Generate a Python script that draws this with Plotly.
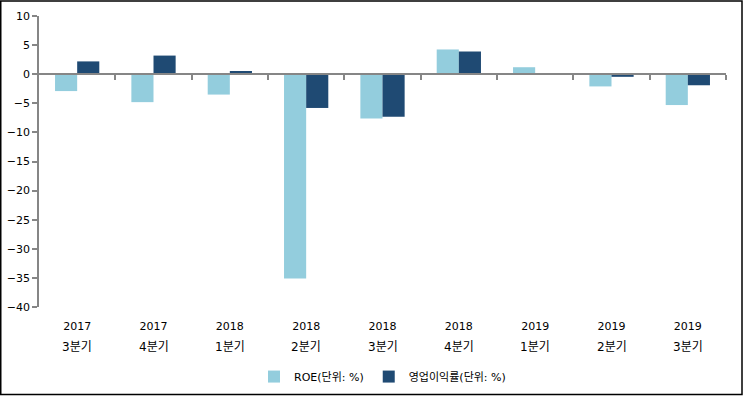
import plotly.graph_objects as go

years = ["2017", "2017", "2018", "2018", "2018", "2018", "2019", "2019", "2019"]
quarters = ["3분기", "4분기", "1분기", "2분기", "3분기", "4분기", "1분기", "2분기", "3분기"]
roe = [-2.9, -4.8, -3.5, -35.1, -7.6, 4.25, 1.2, -2.1, -5.3]
op_margin = [2.2, 3.2, 0.55, -5.8, -7.3, 3.9, 0, -0.45, -1.9]
y_ticks = [10, 5, 0, -5, -10, -15, -20, -25, -30, -35, -40]

idx = list(range(len(years)))
boundaries = [i + 0.5 for i in idx]

W, H = 743, 403
ml, mr, mt, mb = 39, 17, 16, 90
pw, ph = W - ml - mr, H - mt - mb

FONT = "DejaVu Sans, Noto Sans CJK KR, sans-serif"
AXIS_GRAY = "#868686"

fig = go.Figure()
fig.add_trace(go.Bar(x=idx, y=roe, name="ROE(단위: %)", marker_color="#93CDDD",
                     marker_line_width=0))
fig.add_trace(go.Bar(x=idx, y=op_margin, name="영업이익률(단위: %)", marker_color="#1F4A73",
                     marker_line_width=0))
fig.add_trace(go.Scatter(x=[idx[0]], y=[0], xaxis="x2", mode="markers",
                         marker_opacity=0, showlegend=False, hoverinfo="skip"))

ymin, ymax = -40, 10
zero_pos = (0 - ymin) / (ymax - ymin)

fig.update_layout(
    width=W, height=H,
    margin=dict(l=ml, r=mr, t=mt, b=mb, pad=0),
    paper_bgcolor="white", plot_bgcolor="white",
    font=dict(family=FONT, size=11, color="#000000"),
    barmode="group", bargap=0.42, bargroupgap=0,
    showlegend=True,
    legend=dict(orientation="h", x=0.5, xanchor="center",
                y=-(384 - (H - mb)) / ph, yanchor="middle",
                font=dict(size=11, family=FONT), itemwidth=30,
                traceorder="normal"),
    xaxis=dict(range=[-0.5, len(idx) - 0.5], tickvals=idx, ticktext=years,
               showline=False, showgrid=False, zeroline=False, ticks="",
               ticklabelstandoff=11,
               tickfont=dict(size=11, family=FONT), automargin=False),
    xaxis2=dict(overlaying="x", anchor="free", position=zero_pos,
                range=[-0.5, len(idx) - 0.5], tickvals=boundaries,
                showticklabels=False, ticks="outside", ticklen=5,
                tickcolor=AXIS_GRAY, tickwidth=1.5,
                showline=True, linecolor=AXIS_GRAY, linewidth=1.5,
                showgrid=False, zeroline=False),
    yaxis=dict(range=[ymin, ymax], tickvals=y_ticks, showgrid=False,
               zeroline=False, showline=True, linecolor=AXIS_GRAY, linewidth=1.5,
               ticks="outside", ticklen=5, tickcolor=AXIS_GRAY, tickwidth=1.5,
               tickfont=dict(size=11, family=FONT), automargin=False),
)

for i, q in zip(idx, quarters):
    fig.add_annotation(x=i, y=0, xref="x", yref="paper", text=q, showarrow=False,
                       yanchor="middle", yshift=-40,
                       font=dict(size=12, family=FONT))

fig.add_shape(type="rect", xref="paper", yref="paper",
              x0=(0.75 - ml) / pw, x1=(W - 1.0 - ml) / pw,
              y0=-(mb - 0.75) / ph, y1=1 + (mt - 0.75) / ph,
              line=dict(color="black", width=1.5), fillcolor="rgba(0,0,0,0)")

fig.write_html(
    "out.html", config={"displayModeBar": False},
    post_script=("document.body.style.margin='0';"
                 "document.body.style.overflow='hidden';"
                 "document.documentElement.style.overflow='hidden';"))
